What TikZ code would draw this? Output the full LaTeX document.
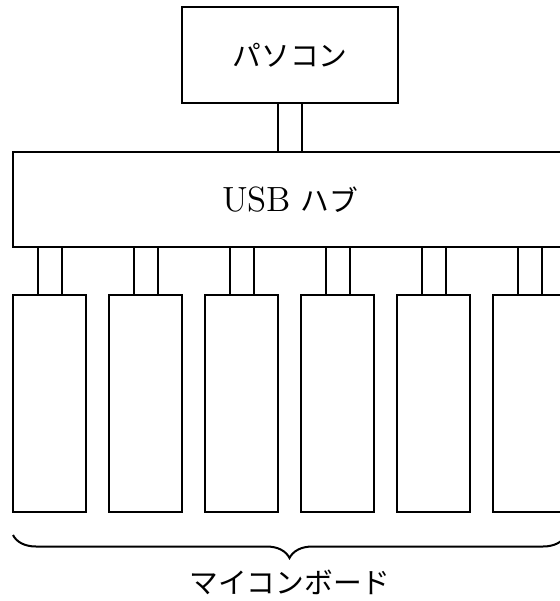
\documentclass[tikz,border=0pt]{standalone}
\usepackage{fontspec}
\newfontfamily\jp{Noto Sans CJK JP}
\usetikzlibrary{calc,decorations.pathreplacing}

\begin{document}
\begin{tikzpicture}[x=0.4pt,y=-0.4pt,
  box/.style={draw,line width=0.8pt,inner sep=0pt,outer sep=0pt},
  wire/.style={line width=0.8pt},
  every node/.style={font=\fontsize{11.5}{14}\selectfont}]
\clip (0,0) rectangle (560,601);

% boxes
\node[box,minimum width=86.4pt,minimum height=38.4pt] (pc) at (290,55) {\jp パソコン};
\node[box,minimum width=221.6pt,minimum height=38pt] (hub) at (290,199.5) {{\fontsize{14}{16}\selectfont USB} \jp ハブ};
\foreach \i in {1,...,6}
  \node[box,minimum width=29.2pt,minimum height=86.8pt] (b\i) at ({49.5+96*(\i-1)},403.5) {};

% cables
\draw[wire] ([xshift=-4.8pt]hub.north) -- ([xshift=-4.8pt]hub.north |- pc.south);
\draw[wire] ([xshift=4.8pt]hub.north) -- ([xshift=4.8pt]hub.north |- pc.south);
\foreach \i in {1,...,6}{
  \draw[wire] ([xshift=-4.8pt]b\i.north) -- ([xshift=-4.8pt]b\i.north |- hub.south);
  \draw[wire] ([xshift=4.8pt]b\i.north) -- ([xshift=4.8pt]b\i.north |- hub.south);
}

% brace
\coordinate (bl) at ($(b1.south west)+(0,23)$);
\coordinate (br) at ($(b6.south east)+(0,23)$);
\draw[wire,decorate,decoration={brace,amplitude=9.2pt}] (br) -- (bl);
\node (mcu) at (290,582) {\jp マイコンボード};
\end{tikzpicture}
\end{document}
